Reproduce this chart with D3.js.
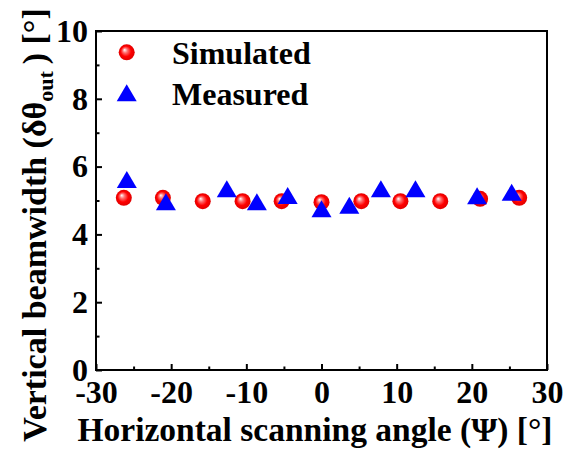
<!DOCTYPE html>
<html>
<head>
<meta charset="utf-8">
<script src="https://cdn.jsdelivr.net/npm/d3@7"></script>
<style>
  body { margin: 0; background: #fff; }
  svg { display: block; }
  text { font-family: "Liberation Serif", "Times New Roman", serif; font-weight: bold; fill: #000; }
</style>
</head>
<body>
<div id="chart"></div>
<script>
// scan angle vs vertical beamwidth
var simAngle = [-26.3, -21.1, -15.8, -10.5, -5.3, 0, 5.3, 10.5, 15.8, 21.1, 26.3]
var simWidth = [5.08, 5.08, 4.98, 4.98, 4.98, 4.95, 4.98, 4.98, 4.98, 5.05, 5.08]
var measAngle = [-25.9, -20.7, -12.6, -8.6, -4.5, 0, 3.7, 7.9, 12.5, 20.7, 25.3]
var measWidth = [5.62, 4.96, 5.35, 4.96, 5.15, 4.76, 4.86, 5.35, 5.35, 5.14, 5.24]
var xTicks = [-30, -20, -10, 0, 10, 20, 30]
var yTicks = [0, 2, 4, 6, 8, 10]
var legendNames = ['Simulated', 'Measured']

var W = 565, H = 455
var m = { left: 96, right: 18, top: 31, bottom: 85 }

var svg = d3.select('#chart').append('svg')
  .attr('width', W).attr('height', H)

var defs = svg.append('defs')
var grad = defs.append('radialGradient').attr('id', 'ball')
  .attr('cx', '50%').attr('cy', '50%').attr('r', '50%')
  .attr('fx', '36%').attr('fy', '34%')
grad.append('stop').attr('offset', '0%').attr('stop-color', '#ffffff')
grad.append('stop').attr('offset', '30%').attr('stop-color', '#ff7070')
grad.append('stop').attr('offset', '65%').attr('stop-color', '#ff0000')
grad.append('stop').attr('offset', '100%').attr('stop-color', '#e00000')

var x = d3.scaleLinear().domain([-30, 30]).range([m.left, W - m.right])
var y = d3.scaleLinear().domain([0, 10]).range([H - m.bottom, m.top])

var g = svg.append('g')

// minor ticks
g.append('g').attr('transform', 'translate(0,' + y(0) + ')')
  .call(d3.axisBottom(x).tickValues(d3.range(-25, 30, 10)).tickSize(-3.5).tickFormat(''))
g.append('g').attr('transform', 'translate(' + x(-30) + ',0)')
  .call(d3.axisLeft(y).tickValues(d3.range(1, 10, 2)).tickSize(-3.5).tickFormat(''))

// major ticks with labels (plain hyphen for negatives)
var xAxis = g.append('g').attr('transform', 'translate(0,' + y(0) + ')')
  .call(d3.axisBottom(x).tickValues(xTicks).tickSize(-6).tickPadding(10).tickFormat(String))
var yAxis = g.append('g').attr('transform', 'translate(' + x(-30) + ',0)')
  .call(d3.axisLeft(y).tickValues(yTicks).tickSize(-6).tickPadding(8).tickFormat(String))

g.selectAll('.domain').remove()
g.selectAll('.tick line').attr('stroke', '#000').attr('stroke-width', 2)
xAxis.selectAll('text').style('font-size', '32px').attr('dy', '0.71em')
yAxis.selectAll('text').style('font-size', '32px').attr('dy', '0.32em')
xAxis.selectAll('text').attr('font-family', null)
yAxis.selectAll('text').attr('font-family', null)

// frame
g.append('rect')
  .attr('x', x(-30)).attr('y', y(10))
  .attr('width', x(30) - x(-30)).attr('height', y(0) - y(10))
  .attr('fill', 'none').attr('stroke', '#000').attr('stroke-width', 2)

function tri(cx, cy) {
  var w = 10, h = 8.5
  return 'M' + cx + ',' + (cy - h) + 'L' + (cx + w) + ',' + (cy + h) + 'L' + (cx - w) + ',' + (cy + h) + 'Z'
}

var sim = simAngle.map(function (a, i) { return [a, simWidth[i]] })
var meas = measAngle.map(function (a, i) { return [a, measWidth[i]] })

g.selectAll('circle.sim').data(sim).enter().append('circle')
  .attr('class', 'sim')
  .attr('cx', function (d) { return x(d[0]) })
  .attr('cy', function (d) { return y(d[1]) })
  .attr('r', 8)
  .attr('fill', 'url(#ball)')

g.selectAll('path.meas').data(meas).enter().append('path')
  .attr('class', 'meas')
  .attr('d', function (d) { return tri(x(d[0]), y(d[1])) })
  .attr('fill', '#0000ff')

// legend
var lg = svg.append('g')
lg.append('circle').attr('cx', 126.7).attr('cy', 52.3).attr('r', 8).attr('fill', 'url(#ball)')
lg.append('path').attr('d', tri(126.7, 92.7)).attr('fill', '#0000ff')
lg.selectAll('text').data(legendNames).enter().append('text')
  .attr('x', 172).attr('y', function (d, i) { return 64 + i * 41 })
  .style('font-size', '32px')
  .text(function (d) { return d })

// axis titles
svg.append('text')
  .attr('x', 315).attr('y', 441)
  .attr('text-anchor', 'middle')
  .style('font-size', '33.5px')
  .text('Horizontal scanning angle (\u03A8) [\u00B0]')

var yt = svg.append('text')
  .attr('transform', 'translate(46,225) rotate(-90)')
  .attr('text-anchor', 'middle')
  .style('font-size', '34px')
yt.append('tspan').text('Vertical beamwidth (\u03B4\u03B8')
yt.append('tspan').attr('dy', 7).style('font-size', '22px').text('out')
yt.append('tspan').attr('dy', -7).text('\u2009) [\u00B0]')
</script>
</body>
</html>
